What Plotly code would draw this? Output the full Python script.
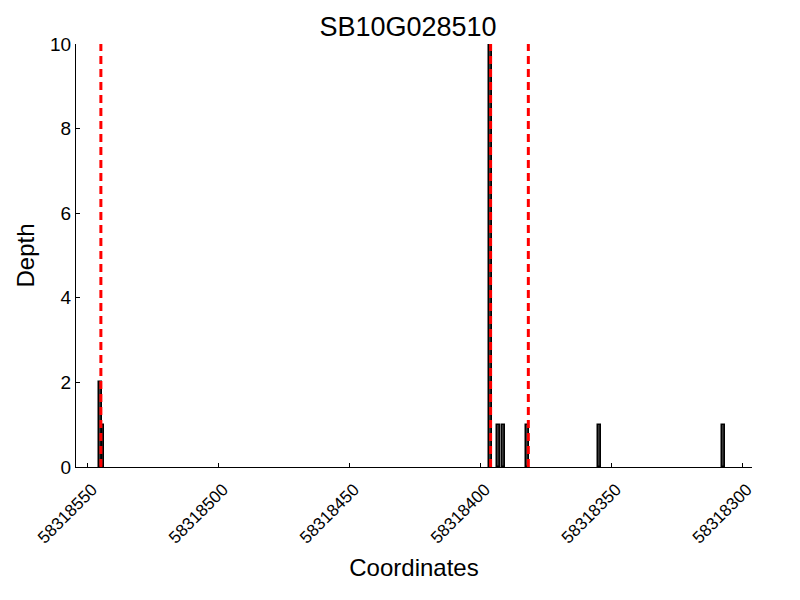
import plotly.graph_objects as go

title = "SB10G028510"
positions = [58318545, 58318544, 58318396, 58318393, 58318391, 58318382, 58318354.5, 58318307]
depths = [2, 1, 10, 1, 1, 1, 1, 1]
boundaries = [58318544.8, 58318396, 58318381.6]
x_ticks = [58318550, 58318500, 58318450, 58318400, 58318350, 58318300]
y_ticks = [0, 2, 4, 6, 8, 10]
x_range = [58318554.3, 58318296.2]
y_range = [0, 10]

fig = go.Figure()
fig.add_trace(go.Bar(
    x=positions, y=depths, width=1,
    marker=dict(color="#383838", line=dict(color="black", width=1.5)),
    showlegend=False,
))
for b in boundaries:
    fig.add_trace(go.Scatter(
        x=[b, b], y=y_range, mode="lines",
        line=dict(color="red", width=3, dash="8px,5px"),
        showlegend=False, hoverinfo="skip",
    ))

fig.update_layout(
    width=800, height=600,
    margin=dict(l=68, r=56, t=36, b=141),
    paper_bgcolor="white", plot_bgcolor="white",
    font=dict(family="Liberation Sans, Arial, sans-serif", color="black"),
    title=dict(text=title, x=0.5, xanchor="center", y=0.969, yanchor="middle",
               font=dict(size=27)),
    bargap=0,
)
fig.update_xaxes(
    range=x_range, tickvals=x_ticks, ticktext=[str(t) for t in x_ticks],
    tickangle=-45, ticks="inside", ticklen=4, tickcolor="black",
    ticklabelshift=-5, ticklabelstandoff=5,
    showline=True, linecolor="black", linewidth=1, showgrid=False, zeroline=False,
    automargin=False,
    tickfont=dict(size=17), title=dict(text="Coordinates", font=dict(size=24), standoff=12),
)
fig.update_yaxes(
    range=y_range, tickvals=y_ticks, ticks="inside", ticklen=4, tickcolor="black",
    showline=True, linecolor="black", linewidth=1, showgrid=False, zeroline=False,
    automargin=False,
    tickfont=dict(size=19), title=dict(text="Depth", font=dict(size=24), standoff=8),
)
fig.write_html("out.html")
